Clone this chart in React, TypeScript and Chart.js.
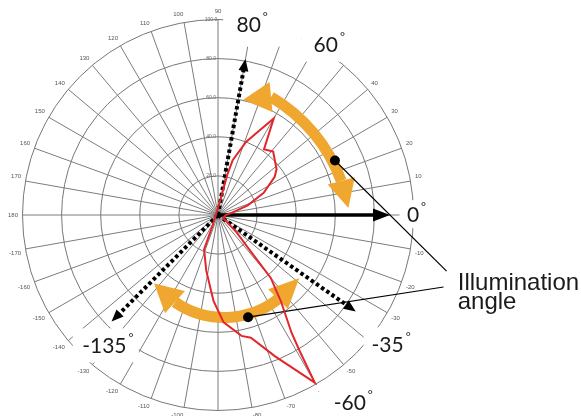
import React, { useEffect, useRef } from 'react';
import { Chart, registerables } from 'chart.js';

Chart.register(...registerables);
Chart.defaults.font.family = "'Liberation Sans', Arial, sans-serif";

// ---- categories: one per degree, clockwise from the top (90°) ----
const categoryAngles: number[] = Array.from({ length: 360 }, (_, i) => {
  const a = 90 - i;
  return a <= -180 ? a + 360 : a;
});
const gridLabelStep = 10;
const radialTicks = [0, 20, 40, 60, 80, 100];

// ---- measured emission pattern (red curve): angle (deg) -> relative intensity ----
const patternAngles = [81, 77, 75, 69, 64, 60, 55, 49, 38, 34, 26, 18, 9, 0, -31, -43, -48, -50, -54, -58, -59, -60, -68, -75, -79, -87, -93, -102, -112, -117];
const patternValues = [8, 21, 29, 40, 48, 57, 41, 43, 38, 35, 26, 16, 7, 4, 3, 13, 25, 42, 55, 71, 81, 99, 78, 65, 63, 55, 44, 29, 19, 6];

// ---- illumination direction arrows ----
const illumAngles = [80, 0, -35, -135];
const illumReach = [81, 88, 86, 77];
const illumSolid = [false, true, false, false];

// ---- orange sweep arrows: [tip, arc start, arc mid, arc end, tip] ----
const upperSweepAngles = [77.7, 65.8, 44.4, 15.5, 3.1];
const upperSweepRadii = [60.4, 66.2, 64.5, 65.4, 66.8];
const lowerSweepAngles = [-133, -116.3, -90, -54.5, -37.9];
const lowerSweepRadii = [47.9, 49.7, 52.3, 52.9, 52.6];

// ---- markers on the sweeps and their leader lines ----
const markerAngles = [25, -73.6];
const markerRadii = [66, 54.5];
const leaderAngles = [-13.8, -17.7];
const leaderRadii = [120.4, 121.1];

// ---- callout labels (baseline centre, polar) ----
const calloutTexts = ['80', '60', '0', '-35', '-60', '-135'];
const calloutAngles = [80.5, 56.6, -2.1, -39.0, -55.9, -129.4];
const calloutRadii = [95.1, 100.1, 99.8, 111.6, 120.2, 91.6];
const calloutBoxes = [
  [-25.5, -32, 52.5, 15],
  [-24.5, -27, 35.5, 10],
  [-13.5, -22, 18.5, 6],
  [-24, -25, 26, 8],
  [-30.5, -26, 26.5, 7],
  [-31.5, -25, 34.5, 9],
];
const noteLines = ['Illumination', 'angle'];
const noteAngle = -17.4;
const noteRadius = 128.5;

const ORANGE = '#EFA72F';

const indexForAngle = (deg: number) => (((90 - deg) % 360) + 360) % 360;

const series: (number | null)[] = categoryAngles.map(() => null);
patternAngles.forEach((a, k) => {
  series[indexForAngle(a)] = patternValues[k];
});

function circleFrom3(a: any, b: any, c: any) {
  const d = 2 * (a.x * (b.y - c.y) + b.x * (c.y - a.y) + c.x * (a.y - b.y));
  const a2 = a.x * a.x + a.y * a.y;
  const b2 = b.x * b.x + b.y * b.y;
  const c2 = c.x * c.x + c.y * c.y;
  const ux = (a2 * (b.y - c.y) + b2 * (c.y - a.y) + c2 * (a.y - b.y)) / d;
  const uy = (a2 * (c.x - b.x) + b2 * (a.x - c.x) + c2 * (b.x - a.x)) / d;
  return { x: ux, y: uy, r: Math.hypot(a.x - ux, a.y - uy) };
}

function arrowHead(ctx: CanvasRenderingContext2D, base: any, tip: any, halfW: number) {
  const dx = tip.x - base.x;
  const dy = tip.y - base.y;
  const len = Math.hypot(dx, dy) || 1;
  const nx = -dy / len;
  const ny = dx / len;
  ctx.beginPath();
  ctx.moveTo(tip.x, tip.y);
  ctx.lineTo(base.x + nx * halfW, base.y + ny * halfW);
  ctx.lineTo(base.x - nx * halfW, base.y - ny * halfW);
  ctx.closePath();
  ctx.fill();
}

const annotationPlugin = {
  id: 'illumAnnotations',
  beforeDatasetsDraw(chart: any) {
    const scale = chart.scales.r;
    const ctx: CanvasRenderingContext2D = chart.ctx;
    const P = (deg: number, v: number) => scale.getPointPositionForValue(indexForAngle(deg), v);
    const cx = scale.xCenter;
    const cy = scale.yCenter;
    ctx.save();

    // white label boxes hiding the grid
    ctx.fillStyle = '#ffffff';
    calloutTexts.forEach((_, k) => {
      const p = P(calloutAngles[k], calloutRadii[k]);
      const b = calloutBoxes[k];
      ctx.fillRect(p.x + b[0], p.y + b[1], b[2] - b[0], b[3] - b[1]);
    });

    // orange sweeps
    const drawSweep = (angles: number[], radii: number[]) => {
      const pts = angles.map((a, k) => P(a, radii[k]));
      const [t0, s, m, e, t1] = pts;
      const c = circleFrom3(s, m, e);
      const a0 = Math.atan2(s.y - c.y, s.x - c.x);
      const a1 = Math.atan2(m.y - c.y, m.x - c.x);
      const a2 = Math.atan2(e.y - c.y, e.x - c.x);
      const norm = (v: number) => ((v % (2 * Math.PI)) + 2 * Math.PI) % (2 * Math.PI);
      const ccw = !(norm(a1 - a0) < norm(a2 - a0));
      ctx.strokeStyle = ORANGE;
      ctx.fillStyle = ORANGE;
      ctx.lineWidth = 11;
      ctx.lineCap = 'butt';
      ctx.beginPath();
      ctx.arc(c.x, c.y, c.r, a0, a2, ccw);
      ctx.stroke();
      arrowHead(ctx, s, t0, 15);
      arrowHead(ctx, e, t1, 14);
    };
    drawSweep(upperSweepAngles, upperSweepRadii);
    drawSweep(lowerSweepAngles, lowerSweepRadii);

    // illumination direction arrows
    illumAngles.forEach((a, k) => {
      const tip = P(a, illumReach[k]);
      const dx = tip.x - cx;
      const dy = tip.y - cy;
      const len = Math.hypot(dx, dy);
      const ux = dx / len;
      const uy = dy / len;
      const headLen = illumSolid[k] ? 17 : 12;
      const halfW = illumSolid[k] ? 6.5 : 5;
      const base = { x: tip.x - ux * headLen, y: tip.y - uy * headLen };
      ctx.strokeStyle = '#000';
      ctx.fillStyle = '#000';
      ctx.lineWidth = illumSolid[k] ? 3.5 : 4;
      ctx.setLineDash(illumSolid[k] ? [] : [3.5, 2.8]);
      ctx.lineCap = 'butt';
      ctx.beginPath();
      ctx.moveTo(cx, cy);
      ctx.lineTo(base.x + ux * 1, base.y + uy * 1);
      ctx.stroke();
      ctx.setLineDash([]);
      arrowHead(ctx, base, tip, halfW);
    });

    // leader lines and markers
    markerAngles.forEach((a, k) => {
      const m = P(a, markerRadii[k]);
      const l = P(leaderAngles[k], leaderRadii[k]);
      ctx.strokeStyle = '#000';
      ctx.lineWidth = 1.2;
      ctx.beginPath();
      ctx.moveTo(m.x, m.y);
      ctx.lineTo(l.x, l.y);
      ctx.stroke();
      ctx.fillStyle = '#000';
      ctx.beginPath();
      ctx.arc(m.x, m.y, 5, 0, Math.PI * 2);
      ctx.fill();
    });
    ctx.restore();
  },
  afterDraw(chart: any) {
    const scale = chart.scales.r;
    const ctx: CanvasRenderingContext2D = chart.ctx;
    const P = (deg: number, v: number) => scale.getPointPositionForValue(indexForAngle(deg), v);
    ctx.save();
    ctx.fillStyle = '#1a1a1a';
    ctx.textBaseline = 'alphabetic';
    calloutTexts.forEach((t, k) => {
      const p = P(calloutAngles[k], calloutRadii[k]);
      ctx.font = "21px Lato, 'Open Sans', sans-serif";
      ctx.textAlign = 'center';
      ctx.fillText(t, p.x, p.y);
      const w = ctx.measureText(t).width;
      ctx.font = "12px Lato, 'Open Sans', sans-serif";
      ctx.textAlign = 'left';
      ctx.fillText('°', p.x + w / 2 + 2, p.y - 11);
    });
    const n = P(noteAngle, noteRadius);
    ctx.font = "24px 'Liberation Sans', Arial, sans-serif";
    ctx.textAlign = 'left';
    noteLines.forEach((line, k) => {
      ctx.fillText(line, n.x, n.y + k * 19);
    });
    ctx.restore();
  },
};

export default function App() {
  const ref = useRef<HTMLCanvasElement>(null);
  useEffect(() => {
    if (!ref.current) return;
    const chart = new Chart(ref.current, {
      type: 'radar',
      data: {
        labels: categoryAngles.map(String),
        datasets: [
          {
            data: series,
            borderColor: '#E3262B',
            borderWidth: 2,
            pointRadius: 0,
            fill: false,
            spanGaps: true,
            tension: 0,
          },
        ],
      },
      options: {
        animation: false,
        responsive: false,
        layout: { padding: { left: 6, top: 5, right: 155, bottom: 15 } },
        plugins: { legend: { display: false }, tooltip: { enabled: false } },
        scales: {
          r: {
            min: radialTicks[0],
            max: radialTicks[radialTicks.length - 1],
            startAngle: 0,
            ticks: {
              stepSize: radialTicks[1] - radialTicks[0],
              showLabelBackdrop: false,
              backdropPadding: 0,
              color: '#666',
              font: { size: 5 },
              callback: (v: any) => (v === 0 ? '' : Number(v).toFixed(1) + '\u2007\u2007\u2007\u2007\u2007'),
            },
            grid: { circular: true, color: '#767676', lineWidth: 1 },
            angleLines: {
              display: true,
              color: (c: any) => (c.index % gridLabelStep === 0 ? '#7c7c7c' : 'rgba(0,0,0,0)'),
              lineWidth: (c: any) => (c.index % gridLabelStep === 0 ? 1 : 0),
            },
            pointLabels: {
              display: true,
              padding: 2,
              color: '#555',
              font: { size: 6 },
              callback: (label: string, index: number) => (index % gridLabelStep === 0 ? label : ''),
            },
          } as any,
        },
      },
      plugins: [annotationPlugin],
    } as any);
    return () => chart.destroy();
  }, []);
  return (
    <div style={{ position: 'fixed', left: 0, top: 0, width: 581, height: 416, overflow: 'hidden', background: '#fff' }}>
      <canvas ref={ref} width={581} height={440} style={{ width: 581, height: 440, display: 'block' }} />
    </div>
  );
}
